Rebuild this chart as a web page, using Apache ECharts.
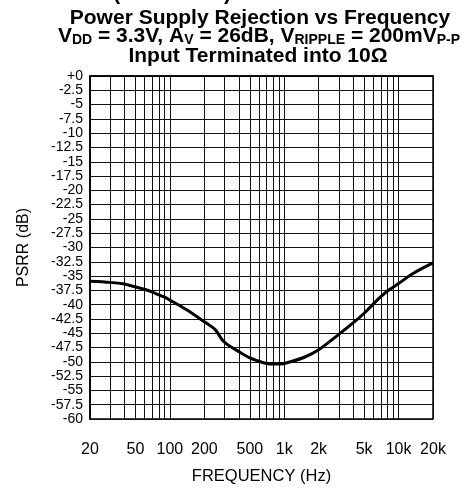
<!DOCTYPE html>
<html>
<head>
<meta charset="utf-8">
<script src="https://cdn.jsdelivr.net/npm/echarts@6/dist/echarts.min.js"></script>
<style>
  html, body { margin: 0; padding: 0; background: #fff; }
  #chart { width: 475px; height: 491px; }
</style>
</head>
<body>
<div id="chart"></div>
<script>
// ---- data ----
const freqHz = [20, 30, 40, 50, 60, 70, 80, 90, 100, 140, 200, 250, 285, 315, 400, 500, 600, 700, 800, 900, 1000, 1500, 2000, 3000, 4000, 5000, 6000, 7000, 8000, 9000, 10000, 13500, 20000];
const psrrDb = [-35.9, -36.1, -36.4, -36.9, -37.3, -37.8, -38.3, -38.7, -39.2, -40.9, -43.0, -44.4, -46.1, -46.9, -48.2, -49.3, -49.9, -50.3, -50.4, -50.4, -50.3, -49.2, -47.9, -45.2, -43.2, -41.5, -39.9, -38.6, -37.6, -36.9, -36.3, -34.5, -32.7];

const xGridValues = [20, 30, 40, 50, 60, 70, 80, 90, 100, 200, 300, 400, 500, 600, 700, 800, 900, 1000, 2000, 3000, 4000, 5000, 6000, 7000, 8000, 9000, 10000, 20000];
const xLabelValues = [20, 50, 100, 200, 500, 1000, 2000, 5000, 10000, 20000];
const xLabelTexts = ['20', '50', '100', '200', '500', '1k', '2k', '5k', '10k', '20k'];

const titleLine1 = 'Power Supply Rejection vs Frequency';
const titleLine2 = 'V{s|DD} = 3.3V, A{s|V} = 26dB, V{s|RIPPLE} = 200mV{s|P-P}';
const titleLine3 = 'Input Terminated into 10Ω';
const topFragment = 'Typical Performance Characteristics (Continued)';
const xName = 'FREQUENCY (Hz)';
const yName = 'PSRR (dB)';

const FONT = 'Arial, "Liberation Sans", Helvetica, sans-serif';

const chart = echarts.init(document.getElementById('chart'), null, { renderer: 'canvas' });

const titleStyle = {
  fontFamily: FONT, fontSize: 21, fontWeight: 'bold', color: '#000', lineHeight: 21,
  rich: { s: { fontFamily: FONT, fontSize: 14, fontWeight: 'bold', color: '#000', verticalAlign: 'bottom', lineHeight: 10 } }
};

chart.setOption({
  animation: false,
  backgroundColor: '#fff',
  title: [
    { text: titleLine1, left: 260, top: 8, textAlign: 'center', padding: 0, textStyle: titleStyle },
    { text: titleLine2, left: 259, top: 26, textAlign: 'center', padding: 0, textStyle: titleStyle },
    { text: titleLine3, left: 258, top: 46, textAlign: 'center', padding: 0, textStyle: titleStyle }
  ],
  graphic: [
    { type: 'text', silent: true, z: -1,
      style: { text: topFragment, x: 231, y: 5, textAlign: 'right', textVerticalAlign: 'bottom', fill: '#000', font: 'bold 21px ' + FONT } }
  ],
  grid: { left: 90, top: 76, width: 343, height: 343, show: true, borderColor: '#000', borderWidth: 1.5, containLabel: false },
  xAxis: {
    type: 'log', logBase: 10, min: 20, max: 20000,
    name: xName, nameLocation: 'middle', nameGap: 49,
    nameTextStyle: { fontFamily: FONT, fontSize: 16.5, color: '#000' },
    axisLine: { show: true, lineStyle: { color: '#000', width: 1.5 } },
    axisTick: { show: false, customValues: xGridValues },
    minorTick: { show: false },
    minorSplitLine: { show: false },
    splitLine: { show: true, lineStyle: { color: '#111', width: 1 } },
    axisLabel: {
      customValues: xLabelValues, margin: 23,
      fontFamily: FONT, fontSize: 16, color: '#000',
      formatter: function (v) { const i = xLabelValues.indexOf(Math.round(v)); return i >= 0 ? xLabelTexts[i] : ''; }
    }
  },
  yAxis: {
    type: 'value', min: -60, max: 0, interval: 2.5,
    name: yName, nameLocation: 'middle', nameGap: 58, nameRotate: 90,
    nameTextStyle: { fontFamily: FONT, fontSize: 16, color: '#000' },
    axisLine: { show: true, lineStyle: { color: '#000', width: 1.5 } },
    axisTick: { show: false },
    splitLine: { show: true, lineStyle: { color: '#111', width: 1 } },
    axisLabel: {
      margin: 7, fontFamily: FONT, fontSize: 14, color: '#000',
      formatter: function (v) { return v === 0 ? '+0' : String(v); }
    }
  },
  series: [{
    type: 'line',
    data: freqHz.map((f, i) => [f, psrrDb[i]]),
    smooth: 0.3,
    showSymbol: false,
    lineStyle: { color: '#000', width: 3 },
    z: 5
  }]
});
</script>
</body>
</html>
